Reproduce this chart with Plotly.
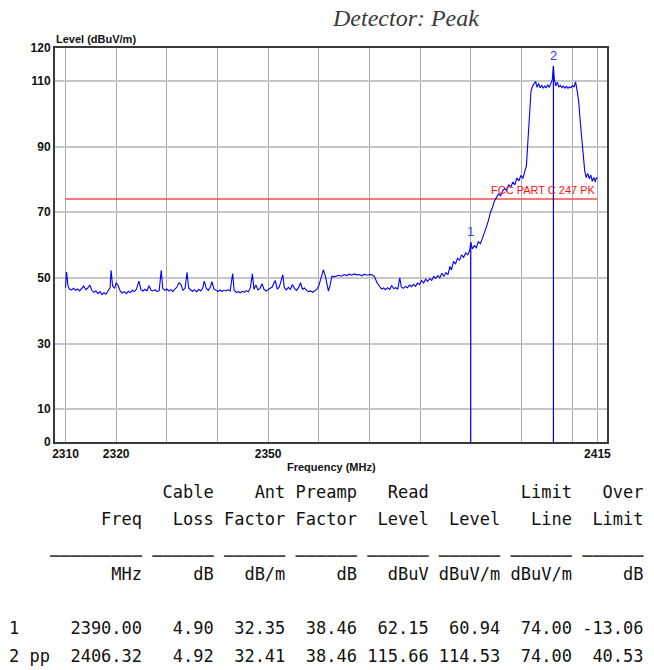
import plotly.graph_objects as go

# ---------------- data ----------------
freq_mhz = [
    2310.0, 2310.2, 2310.5, 2310.8, 2311.2, 2311.6, 2312.0, 2312.4, 2312.8, 2313.2,
    2313.6, 2314.0, 2314.4, 2314.8, 2315.2, 2315.6, 2316.0, 2316.4, 2316.8, 2317.2,
    2317.6, 2318.0, 2318.4, 2318.8, 2319.0, 2319.3, 2319.7, 2320.0, 2320.4, 2320.8,
    2321.2, 2321.6, 2322.0, 2322.4, 2322.8, 2323.2, 2323.6, 2324.0, 2324.5, 2324.9,
    2325.3, 2325.7, 2326.1, 2326.5, 2326.9, 2327.3, 2327.7, 2328.1, 2328.5, 2328.9,
    2329.2, 2329.6, 2330.0, 2330.4, 2330.8, 2331.2, 2331.6, 2332.0, 2332.4, 2332.8,
    2333.2, 2333.6, 2334.0, 2334.3, 2334.7, 2335.1, 2335.5, 2335.9, 2336.3, 2336.7,
    2337.1, 2337.4, 2337.8, 2338.2, 2338.6, 2338.9, 2339.3, 2339.7, 2340.1, 2340.5,
    2340.9, 2341.3, 2341.7, 2342.1, 2342.5, 2343.0, 2343.3, 2343.7, 2344.1, 2344.5,
    2344.9, 2345.3, 2345.7, 2346.1, 2346.5, 2346.9, 2347.2, 2347.6, 2348.0, 2348.4,
    2348.8, 2349.2, 2349.6, 2350.0, 2350.4, 2350.8, 2351.4, 2351.8, 2352.2, 2352.9,
    2353.2, 2353.6, 2354.0, 2354.4, 2354.8, 2355.2, 2355.6, 2356.0, 2356.4, 2356.8,
    2357.2, 2357.6, 2358.0, 2358.4, 2358.8, 2359.2, 2359.6, 2360.0, 2360.5, 2360.9,
    2361.3, 2361.6, 2361.9, 2362.2, 2362.6, 2363.0, 2363.4, 2364.0, 2364.5, 2365.0,
    2365.5, 2366.0, 2366.5, 2367.0, 2367.5, 2368.0, 2368.5, 2369.0, 2369.5, 2370.0,
    2370.5, 2371.0, 2371.5, 2372.0, 2372.4, 2372.8, 2373.2, 2373.6, 2374.0, 2374.4,
    2374.8, 2375.2, 2375.6, 2376.0, 2376.3, 2376.7, 2377.1, 2377.5, 2377.9, 2378.3,
    2378.7, 2379.1, 2379.5, 2379.9, 2380.3, 2380.7, 2381.1, 2381.5, 2381.9, 2382.3,
    2382.7, 2383.1, 2383.5, 2383.9, 2384.3, 2384.7, 2385.1, 2385.5, 2385.9, 2386.2,
    2386.6, 2387.0, 2387.4, 2387.8, 2388.2, 2388.6, 2389.0, 2389.4, 2389.8, 2390.0,
    2390.3, 2390.7, 2391.1, 2391.5, 2391.9, 2392.3, 2392.7, 2393.1, 2393.5, 2393.9,
    2394.3, 2394.7, 2395.1, 2395.5, 2395.9, 2396.3, 2396.7, 2397.1, 2397.5, 2397.9,
    2398.3, 2398.7, 2399.1, 2399.5, 2399.9, 2400.3, 2400.7, 2401.0, 2401.3, 2401.6,
    2401.9, 2402.2, 2402.5, 2402.8, 2403.1, 2403.4, 2403.7, 2404.0, 2404.3, 2404.6,
    2404.9, 2405.2, 2405.5, 2405.8, 2406.1, 2406.32, 2406.5, 2406.8, 2407.1, 2407.4,
    2407.7, 2408.0, 2408.3, 2408.6, 2408.9, 2409.2, 2409.5, 2409.8, 2410.1, 2410.4,
    2410.7, 2411.0, 2411.3, 2411.6, 2411.9, 2412.2, 2412.5, 2412.8, 2413.1, 2413.4,
    2413.7, 2414.0, 2414.3, 2414.6, 2414.8, 2415.0,
]
level_dbuv_m = [
    47.0, 51.8, 47.5, 46.5, 46.3, 46.8, 46.2, 46.6, 46.0, 46.7,
    47.5, 46.4, 46.9, 47.8, 46.2, 45.6, 46.0, 45.2, 45.8, 44.9,
    45.5, 45.0, 45.9, 47.0, 52.3, 47.5, 46.8, 48.5, 47.6, 46.0,
    45.4, 45.8, 45.2, 45.9, 45.5, 46.2, 45.8, 46.5, 49.0, 46.4,
    46.0, 46.5, 46.0, 47.6, 46.2, 46.0, 46.4, 45.8, 46.1, 52.3,
    46.8, 46.2, 46.6, 46.0, 46.4, 45.8, 46.6, 47.2, 48.5, 48.0,
    46.2, 46.8, 51.7, 47.0, 46.3, 45.9, 46.4, 45.7, 46.5, 46.0,
    47.0, 49.0, 46.8, 46.2, 47.2, 48.8, 46.6, 46.1, 45.8, 46.3,
    45.9, 46.2, 46.0, 46.4, 46.0, 51.3, 46.2, 45.6, 45.8, 45.4,
    45.9, 45.6, 46.1, 45.7, 47.0, 51.2, 46.5, 47.8, 46.3, 46.8,
    48.2, 46.5, 46.0, 46.4, 46.9, 47.2, 49.2, 46.6, 47.2, 50.9,
    47.0, 46.3, 47.1, 46.5, 48.0, 46.8, 46.2, 47.0, 48.5, 46.5,
    46.9, 46.1, 45.8, 46.0, 45.6, 46.2, 46.5, 47.5, 50.2, 52.4,
    50.5, 48.0, 46.0, 47.5, 50.5, 50.3, 50.6, 50.8, 50.5, 51.0,
    50.7, 51.1, 50.8, 51.2, 50.9, 51.0, 50.6, 51.1, 50.8, 51.0,
    50.9, 50.4, 48.5, 47.2, 46.6, 46.9, 46.4, 47.0, 46.5, 47.6,
    46.7, 47.0, 46.6, 50.0, 47.2, 46.8, 47.4, 47.0, 47.8, 47.3,
    48.0, 47.4, 48.4, 48.0, 49.2, 48.4, 49.6, 48.9, 49.8, 49.2,
    50.4, 49.8, 50.7, 50.0, 51.4, 50.5, 51.6, 51.0, 53.5, 52.4,
    55.0, 54.2, 56.0, 55.4, 57.0, 56.2, 57.6, 57.0, 58.4, 60.9,
    58.8, 59.8, 59.2, 61.0, 60.4, 62.0, 63.5, 65.5, 67.5, 70.0,
    71.5, 73.5, 74.5, 75.6, 75.0, 76.5, 77.2, 76.6, 78.4, 77.5,
    79.2, 78.3, 80.4, 79.5, 81.2, 80.3, 82.6, 84.2, 92.0, 101.0,
    106.9, 108.4, 109.0, 109.8, 108.0, 109.2, 107.9, 108.6, 107.8, 108.4,
    107.9, 108.8, 108.0, 109.2, 110.3, 114.5, 110.6, 108.4, 109.6, 108.1,
    108.6, 107.9, 108.4, 107.8, 108.3, 107.7, 108.2, 107.9, 108.6, 108.1,
    109.7, 107.0, 103.9, 98.0, 92.5, 86.0, 82.6, 80.5, 81.8, 80.2,
    81.3, 79.4, 80.6, 79.2, 80.5, 80.2,
]

limit_value = 74.0
limit_label = "FCC PART C 247 PK"

marker_ids = ["1", "2"]
marker_freq = [2390.00, 2406.32]
marker_level = [60.94, 114.53]

x_tick_vals = [2310, 2320, 2330, 2340, 2350, 2360, 2370, 2380, 2390, 2400, 2410, 2415]
x_tick_text = ["2310", "2320", "", "", "2350", "", "", "", "", "", "", "2415"]
y_tick_vals = [0, 10, 30, 50, 70, 90, 110, 120]
y_tick_text = ["0", "10", "30", "50", "70", "90", "110", "120"]

table_lines = [
    "               Cable    Ant Preamp   Read         Limit   Over",
    "         Freq   Loss Factor Factor  Level  Level   Line  Limit",
    "    _________ ______ ______ ______ ______ ______ ______ ______",
    "          MHz     dB   dB/m     dB   dBuV dBuV/m dBuV/m     dB",
    "",
    "1     2390.00   4.90  32.35  38.46  62.15  60.94  74.00 -13.06",
    "2 pp  2406.32   4.92  32.41  38.46 115.66 114.53  74.00  40.53",
]

# ---------------- layout geometry ----------------
# The page body has an 8 px margin, so the figure is drawn 8 px in from the
# window's top-left corner; positions below are in window pixels.
OFF = 8
W, H = 654 - OFF, 670 - OFF
PL, PR, PT, PB = 55, 606.7, 47.7, 442.0


def px_x(X):
    return (X - PL) / (PR - PL)


def px_y(Y):
    return (PB - Y) / (PB - PT)


sans = "Liberation Sans Narrow, Arial Narrow, Liberation Sans, Arial"

fig = go.Figure()

# limit line
fig.add_trace(go.Scatter(
    x=[freq_mhz[0], freq_mhz[-1]], y=[limit_value, limit_value],
    mode="lines", line=dict(color="#ff4a4a", width=1.5),
    hoverinfo="skip", showlegend=False,
))

# marker lines
for f, lv in zip(marker_freq, marker_level):
    fig.add_trace(go.Scatter(
        x=[f, f], y=[0, lv], mode="lines",
        line=dict(color="#0000ff", width=1.2),
        hoverinfo="skip", showlegend=False,
    ))

# spectrum trace
fig.add_trace(go.Scatter(
    x=freq_mhz, y=level_dbuv_m, mode="lines",
    line=dict(color="#0000ff", width=1.1),
    showlegend=False,
))

annotations = []

# marker labels
for mid, f, lv in zip(marker_ids, marker_freq, marker_level):
    annotations.append(dict(
        x=f, y=lv, xref="x", yref="y", text=mid, showarrow=False,
        yanchor="bottom", yshift=1,
        font=dict(family="Liberation Sans, Arial", size=13, color="#3a3aff"),
    ))

# limit label
annotations.append(dict(
    x=freq_mhz[-1], y=limit_value, xref="x", yref="y", text=limit_label,
    showarrow=False, xanchor="right", yanchor="bottom", yshift=1, xshift=1,
    font=dict(family=sans, size=11, color="#ff1010"),
))

# y-axis title (top-left)
annotations.append(dict(
    x=px_x(54), y=px_y(39), xref="paper", yref="paper", text="Level (dBuV/m)",
    showarrow=False, xanchor="left", yanchor="middle",
    font=dict(family=sans, size=11, color="#111", weight="bold"),
))

# x-axis title
annotations.append(dict(
    x=px_x(331), y=px_y(467), xref="paper", yref="paper", text="Frequency (MHz)",
    showarrow=False, xanchor="center", yanchor="middle",
    font=dict(family=sans, size=11, color="#111", weight="bold"),
))

# detector title
annotations.append(dict(
    x=px_x(405), y=px_y(18), xref="paper", yref="paper", text="Detector: Peak",
    showarrow=False, xanchor="center", yanchor="middle",
    font=dict(family="Liberation Serif, Times New Roman, serif", size=24,
              color="#3a3a3a", style="italic"),
))

# table text (monospace)
line_y = [492, 519.3, 546.6, 573.9, 601.2, 628.5, 655.8]
for txt, Y in zip(table_lines, line_y):
    if not txt:
        continue
    is_rule = set(txt.strip()) <= {"_", " "}
    annotations.append(dict(
        x=px_x(8), y=px_y(Y), xref="paper", yref="paper",
        text=txt.replace(" ", "\u00a0"), showarrow=False,
        xanchor="left", yanchor="middle", borderpad=0,
        font=dict(family="DejaVu Sans Mono, Liberation Mono, monospace", size=17,
                  color="#444" if is_rule else "#111",
                  weight="bold" if is_rule else "normal"),
    ))

tick_font = dict(family=sans, size=12, color="#111", weight="bold")

fig.update_layout(
    width=W, height=H,
    margin=dict(l=PL - OFF, r=W - (PR - OFF), t=PT - OFF, b=H - (PB - OFF), pad=0),
    paper_bgcolor="white", plot_bgcolor="white",
    annotations=annotations,
    xaxis=dict(
        range=[2307.93, 2416.9], tickvals=x_tick_vals, ticktext=x_tick_text,
        showgrid=True, gridcolor="#ababab", gridwidth=1.2,
        showline=True, linecolor="#3a3a3a", linewidth=2, mirror=True,
        ticks="", tickfont=tick_font, zeroline=False,
    ),
    yaxis=dict(
        range=[0, 120], tickvals=y_tick_vals, ticktext=y_tick_text,
        showgrid=True, gridcolor="#c6c6c6", gridwidth=1.8,
        showline=True, linecolor="#3a3a3a", linewidth=2, mirror=True,
        ticks="", tickfont=tick_font, zeroline=False,
    ),
)

fig.write_html("out.html")
